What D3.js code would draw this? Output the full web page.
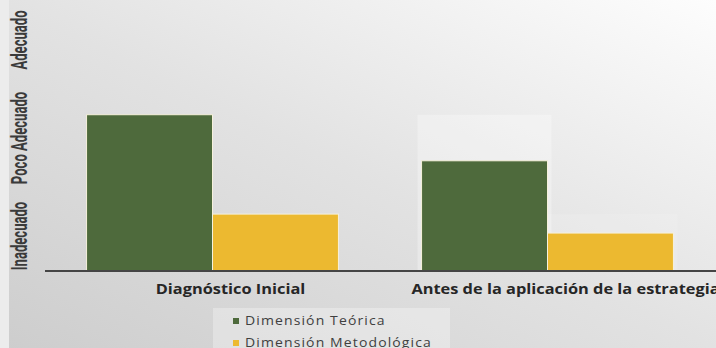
<!DOCTYPE html>
<html>
<head>
<meta charset="utf-8">
<script src="https://cdn.jsdelivr.net/npm/d3@7"></script>
<style>
  html, body { margin: 0; padding: 0; background: #ffffff; }
  svg { display: block; }
</style>
</head>
<body>
<div id="chart"></div>
<script>
// Evaluation stages (x categories)
const categories = ["Diagnóstico Inicial", "Antes de la aplicación de la estrategia"];
// Series
const series = ["Dimensión Teórica", "Dimensión Metodológica"];
// Level reached by each dimension at each stage (0 = bottom, 3 = top of scale)
const teorica = [1.73, 1.22];
const metodologica = [0.63, 0.42];
// Qualitative levels shown on the vertical axis
const levels = ["Inadecuado", "Poco Adecuado", "Adecuado"];

const colors = ["#4e6a3c", "#ecb930"];
const values = [teorica, metodologica];

const W = 716, H = 348;
// Horizontal stretch applied to the category labels
const STRETCH = 1.3;

const svg = d3.select("#chart").append("svg")
  .attr("width", W).attr("height", H);

// Background: soft diagonal grey gradient
const defs = svg.append("defs");
const grad = defs.append("linearGradient").attr("id", "bg")
  .attr("x1", "0").attr("y1", "1").attr("x2", "1").attr("y2", "0");
grad.append("stop").attr("offset", "0").attr("stop-color", "#cdcdcd");
grad.append("stop").attr("offset", "0.5").attr("stop-color", "#e2e2e2");
grad.append("stop").attr("offset", "1").attr("stop-color", "#fdfdfd");
svg.append("rect").attr("width", W).attr("height", H).attr("fill", "url(#bg)");
svg.append("rect").attr("width", 9).attr("height", H).attr("fill", "#ececec");

const baseY = 271;
const axisLeft = 45, plotRight = 715;

const y = d3.scaleLinear().domain([0, 3]).range([baseY, 0]);
const x0 = d3.scaleBand().domain(categories).range([axisLeft, plotRight]).padding(0);
const x1 = d3.scaleBand().domain(series).range([0, x0.bandwidth()])
  .paddingInner(0).paddingOuter(0.33);

// Faint trace of the first stage behind the later stage
const g = svg.append("g");
const ghostOpacity = [0.3, 0.12];
categories.forEach((c, ci) => {
  if (ci === 0) return;
  series.forEach((s, si) => {
    const prev = values[si][ci - 1];
    g.append("rect")
      .attr("x", x0(c) + x1(s) - 4)
      .attr("y", y(prev))
      .attr("width", x1.bandwidth() + 8)
      .attr("height", y(0) - y(prev))
      .attr("fill", "#ffffff")
      .attr("opacity", ghostOpacity[si]);
  });
});

// Bars
categories.forEach((c, ci) => {
  series.forEach((s, si) => {
    const v = values[si][ci];
    g.append("rect")
      .attr("x", x0(c) + x1(s))
      .attr("y", y(v))
      .attr("width", x1.bandwidth())
      .attr("height", y(0) - y(v))
      .attr("fill", colors[si])
      .attr("stroke", "#f6f1dc")
      .attr("stroke-width", 1);
  });
});

// Category axis line
svg.append("line")
  .attr("x1", axisLeft).attr("x2", W)
  .attr("y1", baseY).attr("y2", baseY)
  .attr("stroke", "#454545").attr("stroke-width", 2);

// Category labels
svg.append("g").selectAll("text").data(categories).join("text")
  .attr("transform", d => `translate(${x0(d) + x0.bandwidth() / 2 + 18},294) scale(${STRETCH * 0.9},1)`)
  .attr("text-anchor", "middle")
  .attr("font-family", "'Open Sans', 'Noto Sans', sans-serif")
  .attr("font-weight", 700)
  .attr("font-size", 14)
  .attr("fill", "#262626")
  .text(d => d);

// Qualitative level labels (rotated, condensed along the text)
const yLevel = d3.scalePoint().domain(levels).range([236, 40]);
svg.append("g").selectAll("text").data(levels).join("text")
  .attr("transform", d => `translate(27,${yLevel(d)}) rotate(-90) scale(0.77,1.3)`)
  .attr("text-anchor", "middle")
  .attr("font-family", "Roboto, 'Liberation Sans', sans-serif")
  .attr("font-weight", 700)
  .attr("font-size", 17)
  .attr("fill", "#3a3a3a")
  .text(d => d);

// Legend
const leg = svg.append("g");
leg.append("rect").attr("x", 213).attr("y", 308).attr("width", 237).attr("height", 48)
  .attr("fill", "#ffffff").attr("opacity", 0.3);
series.forEach((s, i) => {
  const ly = 325 + i * 22;
  leg.append("rect").attr("x", 233).attr("y", ly - 7).attr("width", 6).attr("height", 6)
    .attr("fill", colors[i]);
  leg.append("text")
    .attr("transform", `translate(245,${ly}) scale(1.12,1)`)
    .attr("font-family", "'Open Sans', 'Noto Sans', sans-serif")
    .attr("font-size", 12.5)
    .attr("letter-spacing", 1)
    .attr("fill", "#404040")
    .text(s);
});
</script>
</body>
</html>
